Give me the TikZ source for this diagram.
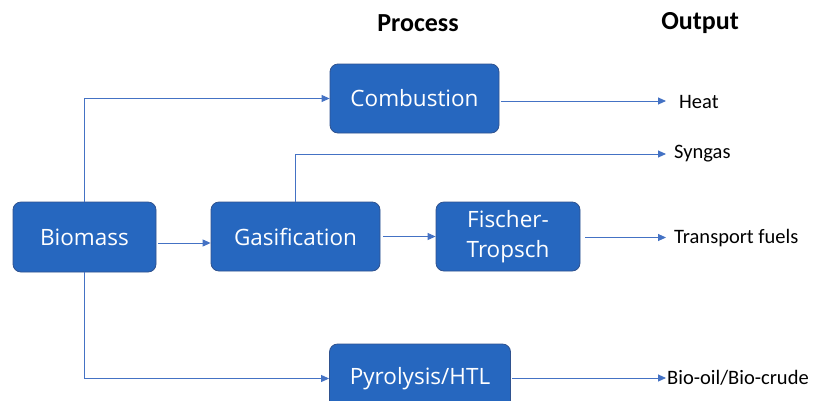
\documentclass[tikz,border=0pt]{standalone}
\usepackage{fontspec}
\setmainfont{Carlito}
\newfontfamily\boxfont{Open Sans}
\usetikzlibrary{arrows.meta,calc}
\definecolor{boxfill}{HTML}{2667BF}
\definecolor{boxline}{HTML}{2F528F}
\definecolor{arrline}{HTML}{4472C4}
\tikzset{
  procbox/.style={draw=boxline, line width=0.8pt, fill=boxfill, rounded corners=8pt,
    text=white, font=\boxfont\fontsize{22.5}{30}\selectfont, align=center, inner sep=0pt},
  arr/.style={draw=arrline, line width=0.9pt, -{Triangle[length=8pt,width=7pt]}},
  outlabel/.style={anchor=west, inner sep=0pt, font=\fontsize{20.5}{24}\selectfont},
  title/.style={font=\bfseries\fontsize{26}{29}\selectfont, inner sep=0pt}
}
\begin{document}
\begin{tikzpicture}[x=1pt,y=-1pt]
\useasboundingbox (0,0) rectangle (813,400);
\clip (0,0) rectangle (813,400);
\fill[white] (0,0) rectangle (813,400);
% titles
\node[title] (tproc) at (418,23) {Process};
\node[title] (tout) at (700,23) {Output};
% boxes
\node[procbox, minimum width=143pt, minimum height=70pt] (bio) at (84.5,237) {Biomass};
\node[procbox, minimum width=169pt, minimum height=69pt] (gas) at (295.5,236.5) {Gasification};
\node[procbox, minimum width=169pt, minimum height=69pt] (comb) at (414.5,98.5) {Combustion};
\node[procbox, minimum width=144pt, minimum height=69pt] (ft) at (508,236.5) {Fischer-\\Tropsch};
\node[procbox, minimum width=181pt, minimum height=69pt] (pyr) at (420,378.5) {Pyrolysis/HTL};
% output labels
\node[outlabel] (heat) at (679,102) {Heat};
\node[outlabel] (syn) at (674,154) {Syngas};
\node[outlabel] (tf) at (674,238) {Transport fuels};
\node[outlabel] (bo) at (667,378) {Bio-oil/Bio-crude};
% arrow end points
\coordinate (eheat) at (666,101);
\coordinate (esyn) at (666,154);
\coordinate (etf) at (666,237.5);
\coordinate (ebo) at (666,378);
% connectors
\draw[arr] (bio.north) |- (comb.west);
\draw[arr] ($(bio.east)+(2,6)$) -- ($(gas.west)+(0,6.5)$);
\draw[arr] (gas.north) |- (esyn);
\draw[arr] ($(gas.east)+(3,0)$) -- (ft.west);
\draw[arr] ($(ft.east)+(5,1)$) -- (etf);
\draw[arr] ($(comb.east)+(1.5,2.5)$) -- (eheat);
\draw[arr] (bio.south) |- (pyr.west);
\draw[arr] ($(pyr.east)+(1.5,-0.5)$) -- (ebo);
\end{tikzpicture}
\end{document}
